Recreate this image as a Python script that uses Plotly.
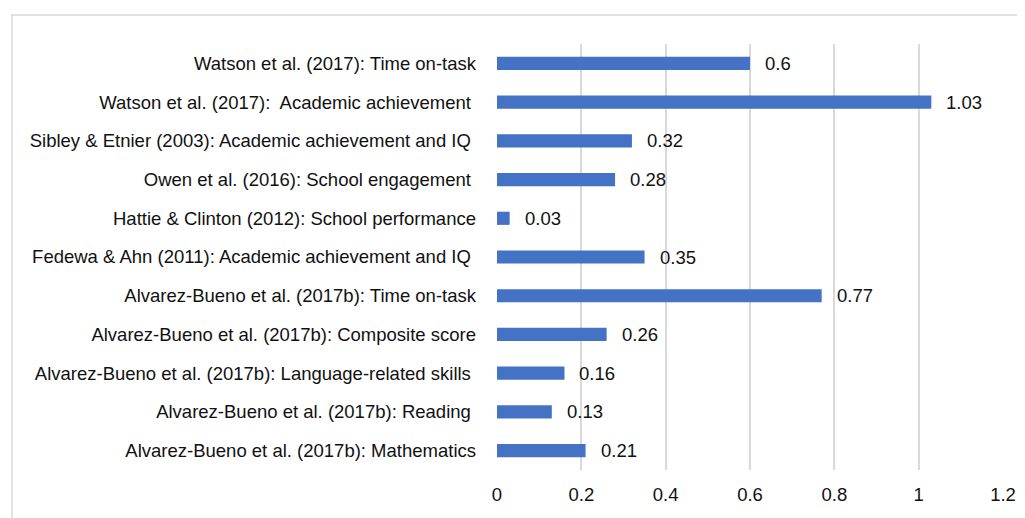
import plotly.graph_objects as go

NB = "\u00a0"

categories = [
    "Watson et al. (2017): Time on-task",
    "Watson et al. (2017):" + NB + " Academic achievement" + NB,
    "Sibley & Etnier (2003): Academic achievement and IQ" + NB,
    "Owen et al. (2016): School engagement" + NB,
    "Hattie & Clinton (2012): School performance",
    "Fedewa & Ahn (2011): Academic achievement and IQ" + NB,
    "Alvarez-Bueno et al. (2017b): Time on-task",
    "Alvarez-Bueno et al. (2017b): Composite score",
    "Alvarez-Bueno et al. (2017b): Language-related skills" + NB,
    "Alvarez-Bueno et al. (2017b): Reading" + NB,
    "Alvarez-Bueno et al. (2017b): Mathematics",
]
values = [0.6, 1.03, 0.32, 0.28, 0.03, 0.35, 0.77, 0.26, 0.16, 0.13, 0.21]
value_labels = ["0.6", "1.03", "0.32", "0.28", "0.03", "0.35", "0.77", "0.26", "0.16", "0.13", "0.21"]
x_ticks = [0, 0.2, 0.4, 0.6, 0.8, 1.0, 1.2]
x_tick_text = ["0", "0.2", "0.4", "0.6", "0.8", "1", "1.2"]

font = dict(family="Liberation Sans, Arial, sans-serif", size=18.5, color="#111111")

fig = go.Figure()
fig.add_trace(go.Bar(
    x=values, y=categories, orientation="h",
    marker=dict(color="#4472C4", line=dict(width=0)),
    width=0.34, hoverinfo="x+y",
))

for v, c, t in zip(values, categories, value_labels):
    fig.add_annotation(x=v, y=c, text=t, showarrow=False, xanchor="left",
                       xshift=13, font=font)

# outer chart border (extends past the right/bottom edges)
fig.add_shape(type="rect", xref="paper", yref="paper",
              x0=-0.9586, x1=1.2, y0=-0.3, y1=1.068,
              line=dict(color="#d9d9d9", width=1.5), layer="below")

# page body adds 8px offset, so figure is 8px smaller
fig.update_layout(
    width=1017, height=510,
    margin=dict(l=489, r=22, t=36, b=48),
    paper_bgcolor="white", plot_bgcolor="white",
    showlegend=False, font=font,
)
fig.update_xaxes(range=[0, 1.2], tickvals=x_ticks, ticktext=x_tick_text,
                 showgrid=True, gridcolor="#d9d9d9", gridwidth=1.5,
                 zeroline=False, showline=False, ticks="", ticklabelstandoff=11,
                 automargin=False)
fig.update_yaxes(autorange="reversed", showgrid=False, zeroline=False,
                 showline=False, ticks="", ticklabelstandoff=20,
                 automargin=False)

fig.write_html("out.html")
